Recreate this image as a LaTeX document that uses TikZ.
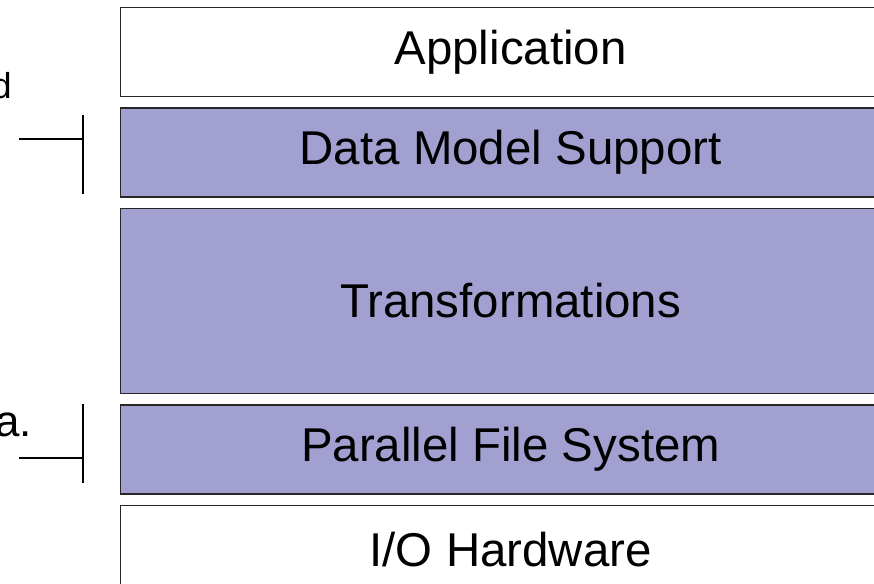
\documentclass[tikz,border=0pt]{standalone}
\usepackage{fontspec}
\setmainfont{Liberation Sans}
\usetikzlibrary{positioning}
\definecolor{layerColor}{RGB}{161, 160, 208}
\tikzstyle{layer} = [rectangle, minimum width=15.6cm, minimum height=1.78cm, inner sep=0pt, text centered, draw=black!85, line width=0.8pt, font=\fontsize{27}{32}\selectfont]
\tikzstyle{shaded} = [layer, fill=layerColor]
\tikzstyle{note} = [inner sep=0pt, anchor=base east]
\tikzstyle{bracket} = [line width=0.8pt]

\begin{document}
\begin{tikzpicture}[node distance=0.2cm, x=0.02cm, y=0.02cm]
				\clip (0,0) rectangle (874,583);
				\node (app) [layer, anchor=north west] at (120,576) {Application};
				\node (dms) [shaded, below=of app] {Data Model Support};
				\node (trans) [shaded, below=of dms, minimum height=3.7cm] {Transformations};
				\node (pfs) [shaded, below=of trans] {Parallel File System};
				\node (hw) [layer, below=of pfs] {I/O Hardware};
				
				\node (upperNote) [note, font=\fontsize{20.5}{24}\selectfont] at (12,485) {d};
				\node (lowerNote) [note, font=\fontsize{25}{30}\selectfont] at (32,147) {ca.};
				
				\coordinate (upperTop) at (83,468);
				\coordinate (upperBot) at (83,389);
				\coordinate (upperArm) at (19,444);
				\coordinate (lowerTop) at (83,179);
				\coordinate (lowerBot) at (83,100);
				\coordinate (lowerArm) at (19,125);
				
				\draw[bracket] (upperTop) -- (upperBot);
				\draw[bracket] (upperArm) -- (upperArm -| upperTop);
				\draw[bracket] (lowerTop) -- (lowerBot);
				\draw[bracket] (lowerArm) -- (lowerArm -| lowerTop);
			\end{tikzpicture}
\end{document}
